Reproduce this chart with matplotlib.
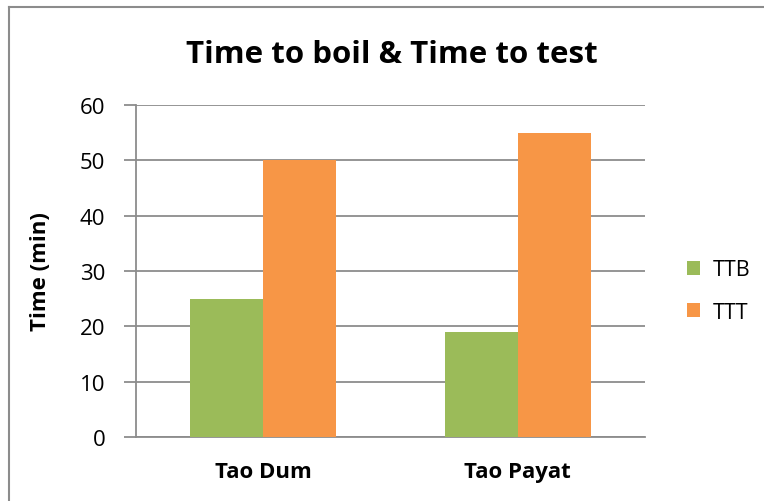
import numpy as np
import matplotlib.pyplot as plt
from matplotlib.lines import Line2D

categories = ['Tao Dum', 'Tao Payat']
ttb = [25, 19]
ttt = [50, 55]
series_names = ['TTB', 'TTT']
colors = ['#9bbb59', '#f79646']
yticks = [0, 10, 20, 30, 40, 50, 60]

plt.rcParams['font.family'] = ['Open Sans', 'DejaVu Sans']

fig = plt.figure(figsize=(7.64, 5.02), dpi=100)
ax = fig.add_axes([0.178, 0.1275, 0.666, 0.6615])

x = np.arange(len(categories))
w = 0.287
ax.bar(x - w / 2, ttb, w, color=colors[0], label=series_names[0], zorder=3)
ax.bar(x + w / 2, ttt, w, color=colors[1], label=series_names[1], zorder=3)

ax.set_xlim(-0.5, len(categories) - 0.5)
ax.set_ylim(0, 60)
ax.set_yticks(yticks)
ax.yaxis.grid(True, color='#8c8c8c', linewidth=1.3, zorder=0)
ax.set_xticks(x)
ax.set_xticklabels(categories, fontsize=16, fontweight='bold')
ax.tick_params(axis='x', length=0, pad=17)
ax.tick_params(axis='y', length=9, width=1.3, color='#8c8c8c', labelsize=16, pad=13)

for s in ['top', 'right']:
    ax.spines[s].set_visible(False)
for s in ['left', 'bottom']:
    ax.spines[s].set_color('#8c8c8c')
    ax.spines[s].set_linewidth(1.3)

ax.set_ylabel('Time (min)', fontsize=16, fontweight='bold')
ax.yaxis.set_label_coords(-0.168, 0.5)
fig.suptitle('Time to boil & Time to test', fontsize=22.5, fontweight='bold',
             x=0.513, y=0.92)

leg = ax.legend(loc='center left', bbox_to_anchor=(1.045, 0.44), frameon=False,
                fontsize=15.5, handlelength=0.62, handleheight=0.62, labelspacing=1.0,
                handletextpad=0.55)

# outer chart frame (top and left edges visible)
fig.add_artist(Line2D([0.012, 1.0], [0.985, 0.985], color='#8c8c8c', linewidth=1.5,
                      transform=fig.transFigure))
fig.add_artist(Line2D([0.012, 0.012], [0.0, 0.985], color='#8c8c8c', linewidth=1.5,
                      transform=fig.transFigure))

fig.savefig('out.png', dpi=100)
